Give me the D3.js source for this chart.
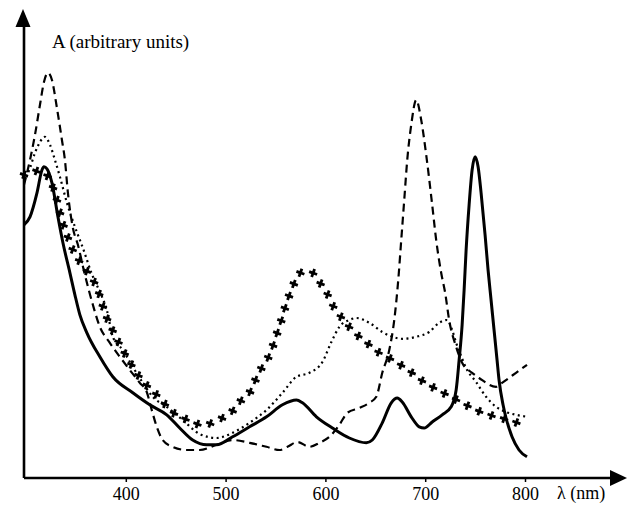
<!DOCTYPE html>
<html>
<head>
<meta charset="utf-8">
<script src="https://cdn.jsdelivr.net/npm/d3@7"></script>
<style>
  html, body { margin: 0; padding: 0; background: #fff; }
  svg { display: block; }
  text { font-family: "Liberation Serif", "Times New Roman", serif; fill: #000; }
</style>
</head>
<body>
<div id="chart"></div>
<script>
/********************* Data *********************/
// wavelength in nm, absorbance in arbitrary units
const solidNm = [298, 304, 311, 316, 318, 321, 326, 332, 337, 344, 349, 354, 361, 374, 387, 407, 424, 441, 454, 467, 481, 491, 507, 524, 541, 557, 571, 577, 591, 607, 624, 641, 647, 657, 666, 672, 677, 686, 694, 699, 707, 717, 726, 731, 734, 737, 739, 741, 744, 747, 750, 753, 756, 760, 763, 766, 769, 772, 774, 778, 781, 787, 794, 802];
const solidA = [63.3, 65.3, 71.3, 77, 77.8, 77.3, 73.8, 65.3, 58.8, 51.3, 45.8, 40.8, 36.3, 30.3, 25.3, 21.3, 18.3, 15.8, 12.5, 9.5, 8.3, 8.3, 10.3, 12.8, 15.3, 18.3, 19.5, 18.8, 15.3, 12.5, 10, 8.8, 9.5, 13.8, 18.8, 20, 19, 15.3, 12.8, 12.5, 14, 15.8, 17.8, 22, 29.5, 38.3, 47, 57, 68.3, 77, 80.3, 77.8, 71.3, 60.8, 52, 44.5, 37, 29.5, 24.5, 18.3, 15, 10.3, 7, 5.3];

const dashNm = [298, 304, 309, 314, 318, 322, 326, 331, 336, 339, 342, 347, 352, 359, 367, 374, 384, 394, 404, 414, 421, 426, 431, 437, 447, 461, 474, 491, 507, 524, 541, 554, 562, 572, 584, 594, 604, 614, 622, 634, 644, 651, 657, 664, 669, 673, 676, 679, 682, 686, 691, 696, 701, 707, 711, 716, 720, 724, 731, 737, 747, 754, 771, 777, 791, 802];
const dashA = [73.3, 79.5, 85.8, 93.3, 99, 101.3, 99.5, 92.5, 84.5, 79.5, 71.3, 62.5, 58.3, 50.8, 43.3, 37.8, 33.8, 30.3, 27, 23.8, 21.5, 17, 12.8, 9.5, 7.8, 7, 7, 8.3, 9.5, 8.8, 7.8, 7, 7.8, 9, 7.8, 8.8, 10.3, 13.3, 16.3, 17.5, 18.8, 20.3, 26.3, 32, 39.5, 49.5, 59.5, 69.5, 79.5, 88.3, 94.5, 89.5, 80.8, 68.3, 59.5, 51.3, 46.3, 39.5, 32.8, 28.8, 26.3, 25, 22.8, 23.8, 26.3, 28.3];

const dotNm = [298, 304, 309, 314, 319, 324, 329, 334, 341, 349, 357, 366, 374, 381, 387, 397, 407, 417, 427, 441, 457, 474, 491, 507, 524, 541, 557, 571, 584, 597, 606, 614, 624, 631, 644, 657, 667, 677, 691, 704, 714, 722, 727, 731, 736, 741, 751, 761, 771, 781, 791, 802];
const dotA = [74, 77.5, 81.3, 84, 85.3, 83.3, 79.5, 75.3, 68.8, 62.8, 57.5, 51, 46.5, 42, 35.3, 32, 27.8, 23.8, 20.3, 17.8, 14.5, 11, 10, 11.3, 13.8, 17, 21.3, 25.3, 26.3, 29, 34, 37.8, 39.5, 40, 38.8, 36.5, 35.3, 34.8, 35.3, 36.5, 38.8, 39.5, 37, 33.8, 30.5, 27.5, 24, 20.3, 17.8, 16.5, 15.8, 15.3];

const crossNm = [298, 306, 314, 320, 326, 331, 336, 341, 347, 356, 366, 372, 379, 389, 397, 407, 416, 426, 436, 444, 456, 467, 479, 492, 506, 514, 524, 529, 536, 544, 552, 557, 561, 566, 571, 577, 587, 594, 601, 607, 614, 622, 634, 644, 654, 664, 674, 684, 697, 709, 722, 737, 751, 764, 777, 787, 799];
const crossA = [75.8, 76.5, 76.8, 76, 73.3, 69.5, 64.5, 60.8, 57, 53.3, 50, 47, 41.3, 35.8, 32, 27.8, 24.5, 22, 19.5, 17, 15.3, 13.8, 13.3, 14.5, 16.5, 19, 21.3, 24, 27.5, 30.8, 36.5, 40.3, 43.8, 47, 50, 51.5, 51.3, 49, 46.5, 43.3, 40.8, 38.3, 35.3, 33.3, 31.3, 30, 28.5, 26.8, 24.3, 22.5, 20.8, 18.8, 17, 15.8, 15, 14, 13.8];

const xTicks = [400, 500, 600, 700, 800];
const xLabel = "λ (nm)";
const yLabel = "A (arbitrary units)";

/********************* Chart *********************/
(() => {
  const width = 628,
    height = 505;

  const x = d3.scaleLinear().domain([300, 800]).range([26, 525]);
  const y = d3.scaleLinear().domain([0, 100]).range([478, 78]);

  const svg = d3
    .select("#chart")
    .append("svg")
    .attr("width", width)
    .attr("height", height)
    .attr("viewBox", "0 0 " + width + " " + height);

  const zip = (xs, ys) => xs.map((v, i) => [v, ys[i]]);
  const line = d3
    .line()
    .x((d) => x(d[0]))
    .y((d) => y(d[1]))
    .curve(d3.curveMonotoneX);

  // Axes: plain lines with filled arrowheads
  const axisX0 = x(298),
    axisY0 = y(0);
  const axes = svg.append("g");
  axes
    .append("line")
    .attr("x1", axisX0)
    .attr("y1", axisY0)
    .attr("x2", axisX0)
    .attr("y2", 22)
    .attr("stroke", "#000")
    .attr("stroke-width", 2.6);
  axes
    .append("path")
    .attr("d", `M${axisX0 - 1},9 L${axisX0 - 8.5},27 L${axisX0 + 6.5},27 Z`)
    .attr("fill", "#000");
  axes
    .append("line")
    .attr("x1", axisX0)
    .attr("y1", axisY0)
    .attr("x2", 615)
    .attr("y2", axisY0)
    .attr("stroke", "#000")
    .attr("stroke-width", 2.6);
  axes
    .append("path")
    .attr("d", `M627,${axisY0} L610,${axisY0 - 8} L610,${axisY0 + 8} Z`)
    .attr("fill", "#000");

  const xAxis = svg
    .append("g")
    .attr("transform", "translate(0," + axisY0 + ")")
    .call(
      d3
        .axisBottom(x)
        .tickValues(xTicks)
        .tickSize(4)
        .tickPadding(5)
        .tickFormat(d3.format("d"))
    );
  xAxis.select(".domain").remove();
  xAxis.selectAll(".tick line").attr("stroke", "#000").attr("stroke-width", 1.5);
  xAxis
    .selectAll(".tick text")
    .attr("font-size", 18)
    .attr("font-family", '"Liberation Serif", serif');

  svg
    .append("text")
    .attr("x", 557)
    .attr("y", 499)
    .attr("font-size", 18)
    .text(xLabel);

  svg
    .append("text")
    .attr("x", 52)
    .attr("y", 48)
    .attr("font-size", 19)
    .text(yLabel);

  /********************* Curves *********************/
  const curves = svg.append("g").attr("fill", "none").attr("stroke", "#000");

  curves
    .append("path")
    .attr("d", line(zip(dashNm, dashA)))
    .attr("stroke-width", 2.2)
    .attr("stroke-dasharray", "8,5");

  curves
    .append("path")
    .attr("d", line(zip(dotNm, dotA)))
    .attr("stroke-width", 2.2)
    .attr("stroke-dasharray", "2,3.5");

  curves
    .append("path")
    .attr("d", line(zip(solidNm, solidA)))
    .attr("stroke-width", 3);

  // crosses: sampled along the (hidden) curve at a fixed spacing
  const crossPath = svg
    .append("path")
    .attr("d", line(zip(crossNm, crossA)))
    .attr("fill", "none")
    .attr("stroke", "none");
  const node = crossPath.node();
  const total = node.getTotalLength();
  const step = 13;
  const pts = d3.range(0, total, step).map((l) => node.getPointAtLength(l));

  svg
    .append("g")
    .selectAll("path")
    .data(pts)
    .enter()
    .append("path")
    .attr("d", d3.symbol().type(d3.symbolCross).size(40))
    .attr("transform", (d) => "translate(" + d.x + "," + d.y + ") rotate(20)")
    .attr("fill", "#000");
})();
</script>
</body>
</html>
